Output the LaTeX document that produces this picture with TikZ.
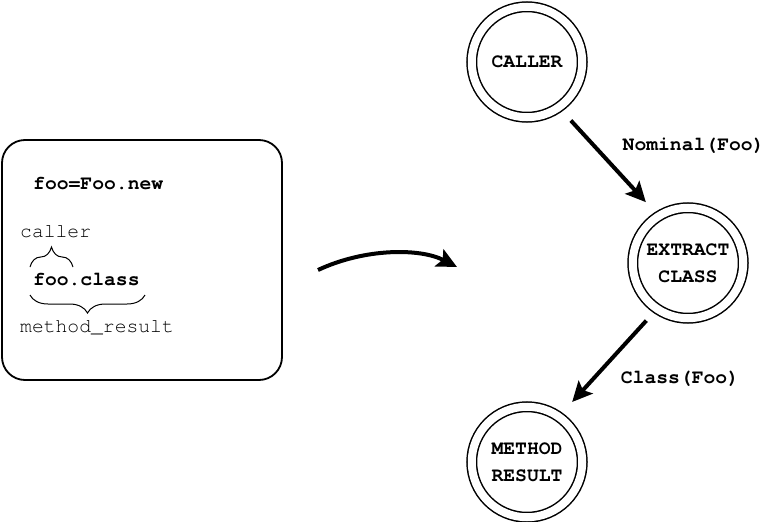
\documentclass[tikz,border=0pt]{standalone}
\usepackage{fontspec}
\setmonofont{texgyrecursor}[Extension=.otf, UprightFont=*-regular, BoldFont=*-bold]
\usetikzlibrary{arrows.meta,decorations.pathreplacing}

\begin{document}
\begin{tikzpicture}[
    x=1pt, y=-1pt,
    font=\ttfamily\fontsize{19.7}{27}\selectfont,
    state/.style={circle, draw=black, line width=1.5pt, double, double distance=8pt,
      minimum size=110.5pt, inner sep=0pt, outer sep=0pt, align=center, font=\ttfamily\bfseries\fontsize{19.7}{27}\selectfont},
    flow/.style={draw=black, line width=4pt, -{Stealth[length=20pt, width=19pt, inset=4pt]}},
    codebox/.style={draw=black, line width=1.8pt, rounded corners=23pt,
      minimum width=280pt, minimum height=240pt},
    code/.style={inner sep=0pt, anchor=base west, font=\ttfamily\bfseries\fontsize{19.7}{27}\selectfont},
    anno/.style={inner sep=0pt, anchor=base west, text=black},
    curly/.style={draw=black, line width=1pt, decorate},
    edgelabel/.style={font=\ttfamily\bfseries\fontsize{19.7}{27}\selectfont, inner sep=0pt},
  ]
  \useasboundingbox (0,0) rectangle (779,522);

  % Source snippet with its annotations.
  \node[codebox] (box) at (142,260) {};
  \node[code] (assign) at (33,189) {foo=Foo.new};
  \node[anno] (caller) at (20,237) {caller};
  \node[code] (call) at (33,285) {foo.class};
  \node[anno] (result) at (20,332) {method\_result};

  \draw[curly, decoration={brace, amplitude=20pt}] (30,267) -- (73,267);
  \draw[curly, decoration={brace, amplitude=18pt}] (145,295) -- (30,295);

  % Snippet turns into the graph.
  \coordinate (from) at (318,270);
  \coordinate (to) at (457,267);
  \draw[flow] (from) .. controls +(47,-22) and +(-37,-19) .. (to);

  % Graph.
  \node[state] (caller-n) at (527,62) {CALLER};
  \node[state] (extract) at (688,263) {EXTRACT\\CLASS};
  \node[state] (method) at (527,462) {METHOD\\RESULT};

  \draw[flow, shorten <=18pt, shorten >=19pt] (caller-n.-55) -- (extract.122)
    node[edgelabel, pos=0.5, anchor=south west, xshift=12pt, yshift=6pt] {Nominal(Foo)};
  \draw[flow, shorten <=16pt, shorten >=20pt] (extract.-124) -- (method.55)
    node[edgelabel, pos=0.5, anchor=north west, xshift=11pt, yshift=-6pt] {Class(Foo)};
\end{tikzpicture}
\end{document}
